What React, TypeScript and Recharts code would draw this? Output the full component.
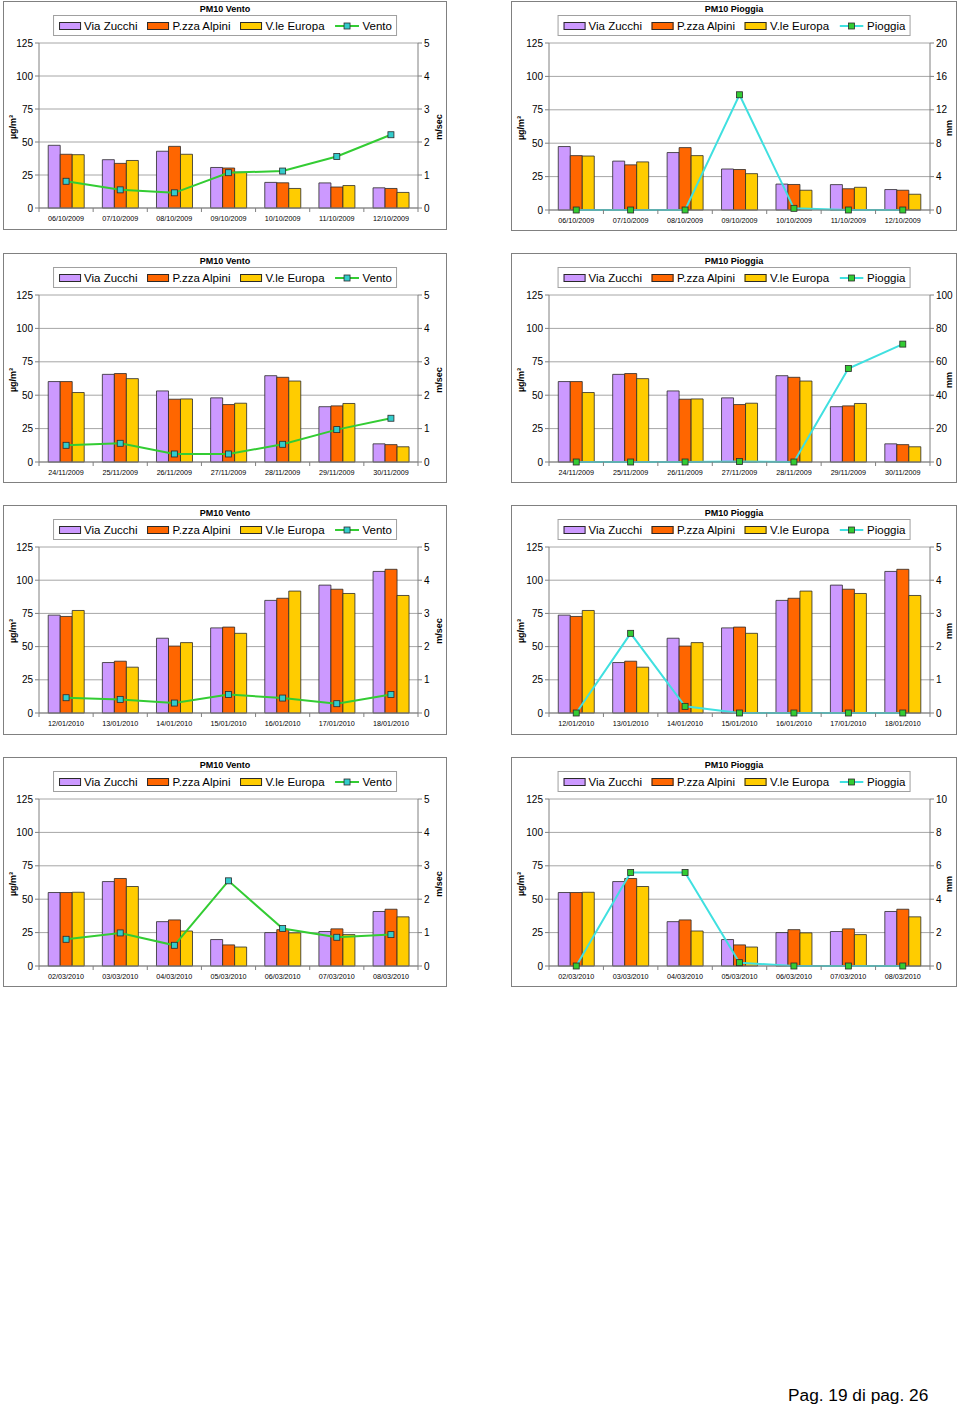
import React from 'react';
import { ComposedChart, Bar, Line, XAxis, YAxis, CartesianGrid } from 'recharts';

// ---------- data ----------
const dates1 = ['06/10/2009', '07/10/2009', '08/10/2009', '09/10/2009', '10/10/2009', '11/10/2009', '12/10/2009'];
const viaZucchi1 = [47.5, 36.6, 43, 30.7, 19.4, 19, 15.3];
const pzzaAlpini1 = [40.7, 33.8, 46.7, 30.3, 19.1, 15.9, 14.8];
const vleEuropa1 = [40.4, 36, 40.7, 27.2, 14.8, 17, 11.8];
const vento1 = [0.81, 0.55, 0.46, 1.07, 1.12, 1.56, 2.22];
const pioggia1 = [0, 0, 0, 13.8, 0.2, 0, 0];

const dates2 = ['24/11/2009', '25/11/2009', '26/11/2009', '27/11/2009', '28/11/2009', '29/11/2009', '30/11/2009'];
const viaZucchi2 = [60.2, 65.6, 53.2, 48, 64.6, 41.4, 13.6];
const pzzaAlpini2 = [60.2, 66.2, 47, 43, 63.4, 42, 13];
const vleEuropa2 = [52, 62.4, 47.2, 44, 60.6, 43.8, 11.4];
const vento2 = [0.5, 0.56, 0.24, 0.24, 0.53, 0.97, 1.31];
const pioggia2 = [0, 0, 0, 0.3, 0, 56, 70.6];

const dates3 = ['12/01/2010', '13/01/2010', '14/01/2010', '15/01/2010', '16/01/2010', '17/01/2010', '18/01/2010'];
const viaZucchi3 = [73.7, 38, 56.3, 64.1, 84.8, 96.3, 106.6];
const pzzaAlpini3 = [72.7, 39, 50.4, 64.7, 86.4, 93.2, 108.2];
const vleEuropa3 = [77.2, 34.5, 53, 60, 91.8, 90, 88.5];
const vento3 = [0.46, 0.41, 0.3, 0.56, 0.45, 0.28, 0.56];
const pioggia3 = [0, 2.4, 0.2, 0, 0, 0, 0];

const dates4 = ['02/03/2010', '03/03/2010', '04/03/2010', '05/03/2010', '06/03/2010', '07/03/2010', '08/03/2010'];
const viaZucchi4 = [55, 63.2, 33.2, 19.8, 25, 25.8, 40.8];
const pzzaAlpini4 = [55, 65.5, 34.5, 15.8, 27.2, 27.8, 42.5];
const vleEuropa4 = [55.2, 59.5, 26.2, 14.2, 24.8, 23.5, 36.8];
const vento4 = [0.8, 0.99, 0.62, 2.55, 1.12, 0.86, 0.94];
const pioggia4 = [0, 5.6, 5.6, 0.2, 0, 0, 0];

const pmTicks = [0, 25, 50, 75, 100, 125];
const ventoTicks = [0, 1, 2, 3, 4, 5];
const pioggiaTicks1 = [0, 4, 8, 12, 16, 20];
const pioggiaTicks2 = [0, 20, 40, 60, 80, 100];
const pioggiaTicks3 = [0, 1, 2, 3, 4, 5];
const pioggiaTicks4 = [0, 2, 4, 6, 8, 10];

const seriesNames = ['Via Zucchi', 'P.zza Alpini', 'V.le Europa'];
const barColors = ['#cc99ff', '#ff6600', '#ffcc00'];

const FONT = '"Liberation Sans", Arial, Helvetica, sans-serif';

type ChartProps = {
  X: number; Y: number; W: number; H: number;
  plotLeft: number; plotRight: number; plotTop: number; plotBottom: number;
  title: string; lineName: string; unit: string;
  dates: string[]; vz: number[]; pa: number[]; ve: number[]; line: number[];
  rightTicks: number[]; lineColor: string; markerColor: string;
};

function PMChart(p: ChartProps) {
  const data = p.dates.map((d, i) => ({ date: d, vz: p.vz[i], pa: p.pa[i], ve: p.ve[i], line: p.line[i] }));
  const innerW = p.W - 2;
  const innerH = p.H - 2;
  const leftW = p.plotLeft - (p.X + 1);
  const rightW = p.X + p.W - 1 - p.plotRight;
  const top = p.plotTop - (p.Y + 1);
  const xH = p.Y + p.H - 1 - p.plotBottom;
  const band = (p.plotRight - p.plotLeft) / p.dates.length;
  const baseY = p.plotBottom - (p.Y + 1);
  const n = p.dates.length;

  const DateTick = (tp: any) => {
    const { x, payload, index } = tp;
    return (
      <g>
        <text x={x} y={baseY + 12.5} textAnchor="middle" fontSize={7.2} fill="#000" fontFamily={FONT}>
          {payload.value}
        </text>
        <line x1={x - band / 2} x2={x - band / 2} y1={baseY} y2={baseY + 4} stroke="#808080" />
        {index === n - 1 ? (
          <line x1={x + band / 2} x2={x + band / 2} y1={baseY} y2={baseY + 4} stroke="#808080" />
        ) : null}
      </g>
    );
  };

  const Square = (dp: any) => {
    const { cx, cy, index } = dp;
    if (cx == null || cy == null) return <g key={index} />;
    return (
      <rect key={index} x={cx - 3} y={cy - 3} width={6} height={6} fill={p.markerColor} stroke="#2a2a2a" strokeWidth={0.8} />
    );
  };

  const plotMidY = (p.plotTop + p.plotBottom) / 2 - p.Y;

  return (
    <div
      style={{
        position: 'absolute', left: p.X, top: p.Y, width: p.W, height: p.H,
        border: '1px solid #808080', boxSizing: 'border-box', background: '#fff', fontFamily: FONT,
      }}
    >
      <div style={{ position: 'absolute', left: 0, top: 0 }}>
        <ComposedChart
          width={innerW}
          height={innerH}
          data={data}
          margin={{ top, right: 0, bottom: 0, left: 0 }}
          barCategoryGap="17%"
          barGap={0}
        >
          <CartesianGrid yAxisId="left" vertical={false} stroke="#a6a6a6" />
          <XAxis
            dataKey="date"
            height={xH}
            interval={0}
            tickLine={false}
            axisLine={{ stroke: '#808080' }}
            tick={DateTick}
          />
          <YAxis
            yAxisId="left"
            width={leftW}
            domain={[0, 125]}
            ticks={pmTicks}
            tickSize={4}
            tickMargin={2}
            axisLine={{ stroke: '#808080' }}
            tickLine={{ stroke: '#808080' }}
            tick={{ fontSize: 10, fill: '#000', fontFamily: FONT }}
          />
          <YAxis
            yAxisId="right"
            orientation="right"
            width={rightW}
            domain={[0, p.rightTicks[p.rightTicks.length - 1]]}
            ticks={p.rightTicks}
            tickSize={4}
            tickMargin={2}
            axisLine={{ stroke: '#808080' }}
            tickLine={{ stroke: '#808080' }}
            tick={{ fontSize: 10, fill: '#000', fontFamily: FONT }}
          />
          <Bar yAxisId="left" dataKey="vz" fill={barColors[0]} stroke="#2a2a2a" strokeWidth={0.8} isAnimationActive={false} />
          <Bar yAxisId="left" dataKey="pa" fill={barColors[1]} stroke="#2a2a2a" strokeWidth={0.8} isAnimationActive={false} />
          <Bar yAxisId="left" dataKey="ve" fill={barColors[2]} stroke="#2a2a2a" strokeWidth={0.8} isAnimationActive={false} />
          <Line
            yAxisId="right"
            dataKey="line"
            type="linear"
            stroke={p.lineColor}
            strokeWidth={2}
            dot={Square}
            activeDot={false}
            isAnimationActive={false}
          />
        </ComposedChart>
      </div>

      {/* title */}
      <div
        style={{
          position: 'absolute', left: '50%', top: 7, transform: 'translate(-50%, -50%)',
          fontSize: 9, fontWeight: 'bold', whiteSpace: 'nowrap', color: '#000',
        }}
      >
        {p.title}
      </div>

      {/* legend */}
      <div
        style={{
          position: 'absolute', left: '50%', top: 13, transform: 'translateX(-50%)', height: 21,
          border: '1px solid #a0a0a0', boxSizing: 'border-box', background: '#fff',
          display: 'flex', alignItems: 'center', padding: '0 4px 0 5px', whiteSpace: 'nowrap',
          fontSize: 11.5, color: '#000',
        }}
      >
        {seriesNames.map((name, i) => (
          <span key={name} style={{ display: 'flex', alignItems: 'center', marginRight: 10 }}>
            <span
              style={{
                display: 'inline-block', width: 22, height: 8, boxSizing: 'border-box',
                border: '1px solid #2a2a2a', background: barColors[i], marginRight: 3,
              }}
            />
            {name}
          </span>
        ))}
        <span style={{ display: 'flex', alignItems: 'center' }}>
          <svg width={24} height={10} style={{ marginRight: 4 }}>
            <line x1={0} x2={24} y1={5} y2={5} stroke={p.lineColor} strokeWidth={2} />
            <rect x={9} y={2} width={6} height={6} fill={p.markerColor} stroke="#2a2a2a" strokeWidth={0.8} />
          </svg>
          {p.lineName}
        </span>
      </div>

      {/* axis titles */}
      <div
        style={{
          position: 'absolute', left: 9, top: plotMidY, transform: 'translate(-50%, -50%) rotate(-90deg)',
          fontSize: 9, fontWeight: 'bold', whiteSpace: 'nowrap', color: '#000',
        }}
      >
        µg/m³
      </div>
      <div
        style={{
          position: 'absolute', left: p.W - 9, top: plotMidY, transform: 'translate(-50%, -50%) rotate(-90deg)',
          fontSize: 9, fontWeight: 'bold', whiteSpace: 'nowrap', color: '#000',
        }}
      >
        {p.unit}
      </div>
    </div>
  );
}

const VENTO_LINE = '#33cc33';
const VENTO_MARK = '#33cccc';
const PIOGGIA_LINE = '#40e0e0';
const PIOGGIA_MARK = '#33cc33';

export default function App() {
  const L = { X: 3, W: 444, plotLeft: 39, plotRight: 418 };
  const R = { X: 511, W: 446, plotLeft: 549, plotRight: 930 };
  const rows = [
    { Y: 1, H: 229, plotTop: 43, plotBottom: 208, HR: 230, plotBottomR: 210 },
    { Y: 253, H: 230, plotTop: 295, plotBottom: 462, HR: 230, plotBottomR: 462 },
    { Y: 505, H: 230, plotTop: 547, plotBottom: 713, HR: 230, plotBottomR: 713 },
    { Y: 757, H: 230, plotTop: 799, plotBottom: 966, HR: 230, plotBottomR: 966 },
  ];
  const periods = [
    { dates: dates1, vz: viaZucchi1, pa: pzzaAlpini1, ve: vleEuropa1, vento: vento1, pioggia: pioggia1, pt: pioggiaTicks1 },
    { dates: dates2, vz: viaZucchi2, pa: pzzaAlpini2, ve: vleEuropa2, vento: vento2, pioggia: pioggia2, pt: pioggiaTicks2 },
    { dates: dates3, vz: viaZucchi3, pa: pzzaAlpini3, ve: vleEuropa3, vento: vento3, pioggia: pioggia3, pt: pioggiaTicks3 },
    { dates: dates4, vz: viaZucchi4, pa: pzzaAlpini4, ve: vleEuropa4, vento: vento4, pioggia: pioggia4, pt: pioggiaTicks4 },
  ];

  return (
    <div
      style={{
        position: 'absolute', left: 0, top: 0, width: 960, height: 1408, background: '#fff',
        fontFamily: FONT, overflow: 'hidden',
      }}
    >
      {periods.map((per, i) => {
        const r = rows[i];
        return (
          <React.Fragment key={i}>
            <PMChart
              X={L.X} Y={r.Y} W={L.W} H={r.H}
              plotLeft={L.plotLeft} plotRight={L.plotRight} plotTop={r.plotTop} plotBottom={r.plotBottom}
              title="PM10 Vento" lineName="Vento" unit="m/sec"
              dates={per.dates} vz={per.vz} pa={per.pa} ve={per.ve} line={per.vento}
              rightTicks={ventoTicks} lineColor={VENTO_LINE} markerColor={VENTO_MARK}
            />
            <PMChart
              X={R.X} Y={r.Y} W={R.W} H={r.HR}
              plotLeft={R.plotLeft} plotRight={R.plotRight} plotTop={r.plotTop} plotBottom={r.plotBottomR}
              title="PM10 Pioggia" lineName="Pioggia" unit="mm"
              dates={per.dates} vz={per.vz} pa={per.pa} ve={per.ve} line={per.pioggia}
              rightTicks={per.pt} lineColor={PIOGGIA_LINE} markerColor={PIOGGIA_MARK}
            />
          </React.Fragment>
        );
      })}
      <div
        style={{
          position: 'absolute', left: 788, top: 1385, fontSize: 17.3, color: '#000', whiteSpace: 'nowrap',
          lineHeight: '20px',
        }}
      >
        Pag. 19 di pag. 26
      </div>
    </div>
  );
}
